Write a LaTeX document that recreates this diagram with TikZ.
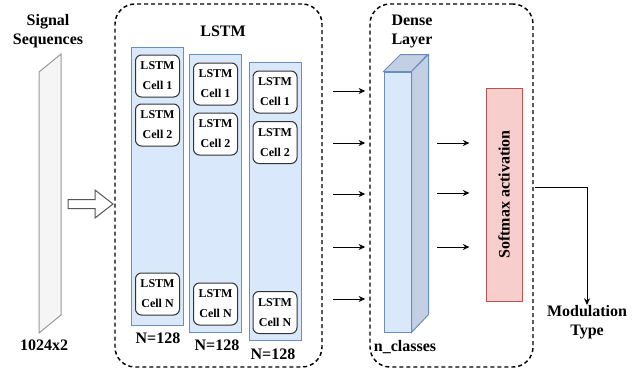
\documentclass[tikz,border=0pt]{standalone}
\usepackage{fontspec}
\setmainfont{Liberation Serif}
\usetikzlibrary{arrows.meta,calc}
\definecolor{bluefill}{HTML}{DAE8FC}
\definecolor{bluedraw}{HTML}{6C8EBF}
\definecolor{redfill}{HTML}{F8CECC}
\definecolor{reddraw}{HTML}{B85450}
\definecolor{grayfill}{HTML}{F5F5F5}
\definecolor{graydraw}{HTML}{999999}
\definecolor{cubeside}{HTML}{C3D0E3}
\definecolor{arrowgray}{HTML}{555555}
\begin{document}
\begin{tikzpicture}[x=0.75pt,y=-0.75pt,
  lbl/.style={font=\fontsize{12}{14.5}\selectfont\bfseries, align=center, inner sep=0pt},
  col/.style={draw=bluedraw, fill=bluefill, line width=0.75pt, minimum width=39pt, minimum height=208.5pt, inner sep=0pt},
  cell/.style={draw=black!80, fill=white, rounded corners=4.5pt, line width=0.75pt, minimum width=33pt, minimum height=31.5pt, inner sep=0pt, align=center, font=\fontsize{9}{15}\selectfont\bfseries},
  group/.style={draw, dash pattern=on 3pt off 2.25pt, line width=1.1pt, rounded corners=15pt, minimum height=272.25pt, inner sep=0pt},
  arr/.style={-{Stealth[length=5pt,width=4.5pt]}, line width=0.75pt}
]
\useasboundingbox (0,0) rectangle (641,371);

% input signal
\draw[draw=graydraw, fill=grayfill, line width=0.75pt] (39,72) -- (61,54) -- (61,315) -- (39,333) -- cycle;
\node[lbl] (sig) at (48,31) {Signal\\Sequences};
\node[lbl] (dim) at (44,345) {1024x2};

% hollow arrow
\draw[draw=arrowgray, fill=white, line width=0.75pt] (68,199.5) -- (95,199.5) -- (95,190) -- (113,204) -- (95,218) -- (95,208.5) -- (68,208.5) -- cycle;

% LSTM group
\node[group, minimum width=155.25pt] (lstm) at (218.5,185.5) {};
\node[lbl] (lt) at (223,31) {LSTM};

\node[col] (c1) at (157.5,186.5) {};
\node[col] (c2) at (215.5,193) {};
\node[col] (c3) at (275,201.5) {};

\node[cell] (c1a) at (157.5,76) {LSTM\\Cell 1};
\node[cell] (c1b) at (157.5,125) {LSTM\\Cell 2};
\node[cell] (c1n) at (157.5,294) {LSTM\\Cell N};
\node[cell] (c2a) at (215.5,84) {LSTM\\Cell 1};
\node[cell] (c2b) at (215.5,134) {LSTM\\Cell 2};
\node[cell] (c2n) at (215.5,304) {LSTM\\Cell N};
\node[cell] (c3a) at (275,92) {LSTM\\Cell 1};
\node[cell] (c3b) at (275,142.5) {LSTM\\Cell 2};
\node[cell] (c3n) at (275,312.5) {LSTM\\Cell N};

\node[lbl] (n1) at (158,338) {N=128};
\node[lbl] (n2) at (217,345) {N=128};
\node[lbl] (n3) at (273,354) {N=128};

% Dense group
\node[group, minimum width=122.25pt] (dense) at (451.5,185.5) {};
\node[lbl] (dl) at (412,31.5) {Dense\\Layer};

\node[draw=bluedraw, fill=bluefill, line width=0.75pt, minimum width=20.25pt, minimum height=195pt, inner sep=0pt] (cube) at (397.5,202) {};
\draw[draw=bluedraw, fill=cubeside, line width=0.75pt] (cube.north west) -- ++(17,-17) -- ++(27,0) -- (cube.north east) -- cycle;
\draw[draw=bluedraw, fill=cubeside, line width=0.75pt] (cube.north east) -- ++(17,-17) -- ++(0,260) -- (cube.south east) -- cycle;
\node[lbl] (nc) at (405,347) {n\_classes};

% softmax
\node[draw=reddraw, fill=redfill, line width=0.75pt, minimum width=27pt, minimum height=159.75pt, inner sep=0pt] (soft) at (504,194.5) {};
\node[lbl, rotate=90] (softtxt) at (soft.center) {Softmax activation};

% arrows LSTM -> Dense
\foreach \i/\y in {1/91,2/143,3/194,4/247,5/299}{
  \coordinate (a\i) at (333,\y);
  \draw[arr] (a\i) -- ([xshift=-3pt]dense.west |- a\i);
}
% arrows Dense -> Softmax
\foreach \i/\y in {1/143,2/193,3/247}{
  \coordinate (d\i) at (437,\y);
  \draw[arr] (d\i) -- ([xshift=-12pt]soft.west |- d\i);
}

% output
\node[lbl, anchor=north] (mod) at (587,305) {Modulation\\Type};
\coordinate (o1) at (535,187);
\draw[arr] (o1) -| (mod.north);
\end{tikzpicture}
\end{document}
